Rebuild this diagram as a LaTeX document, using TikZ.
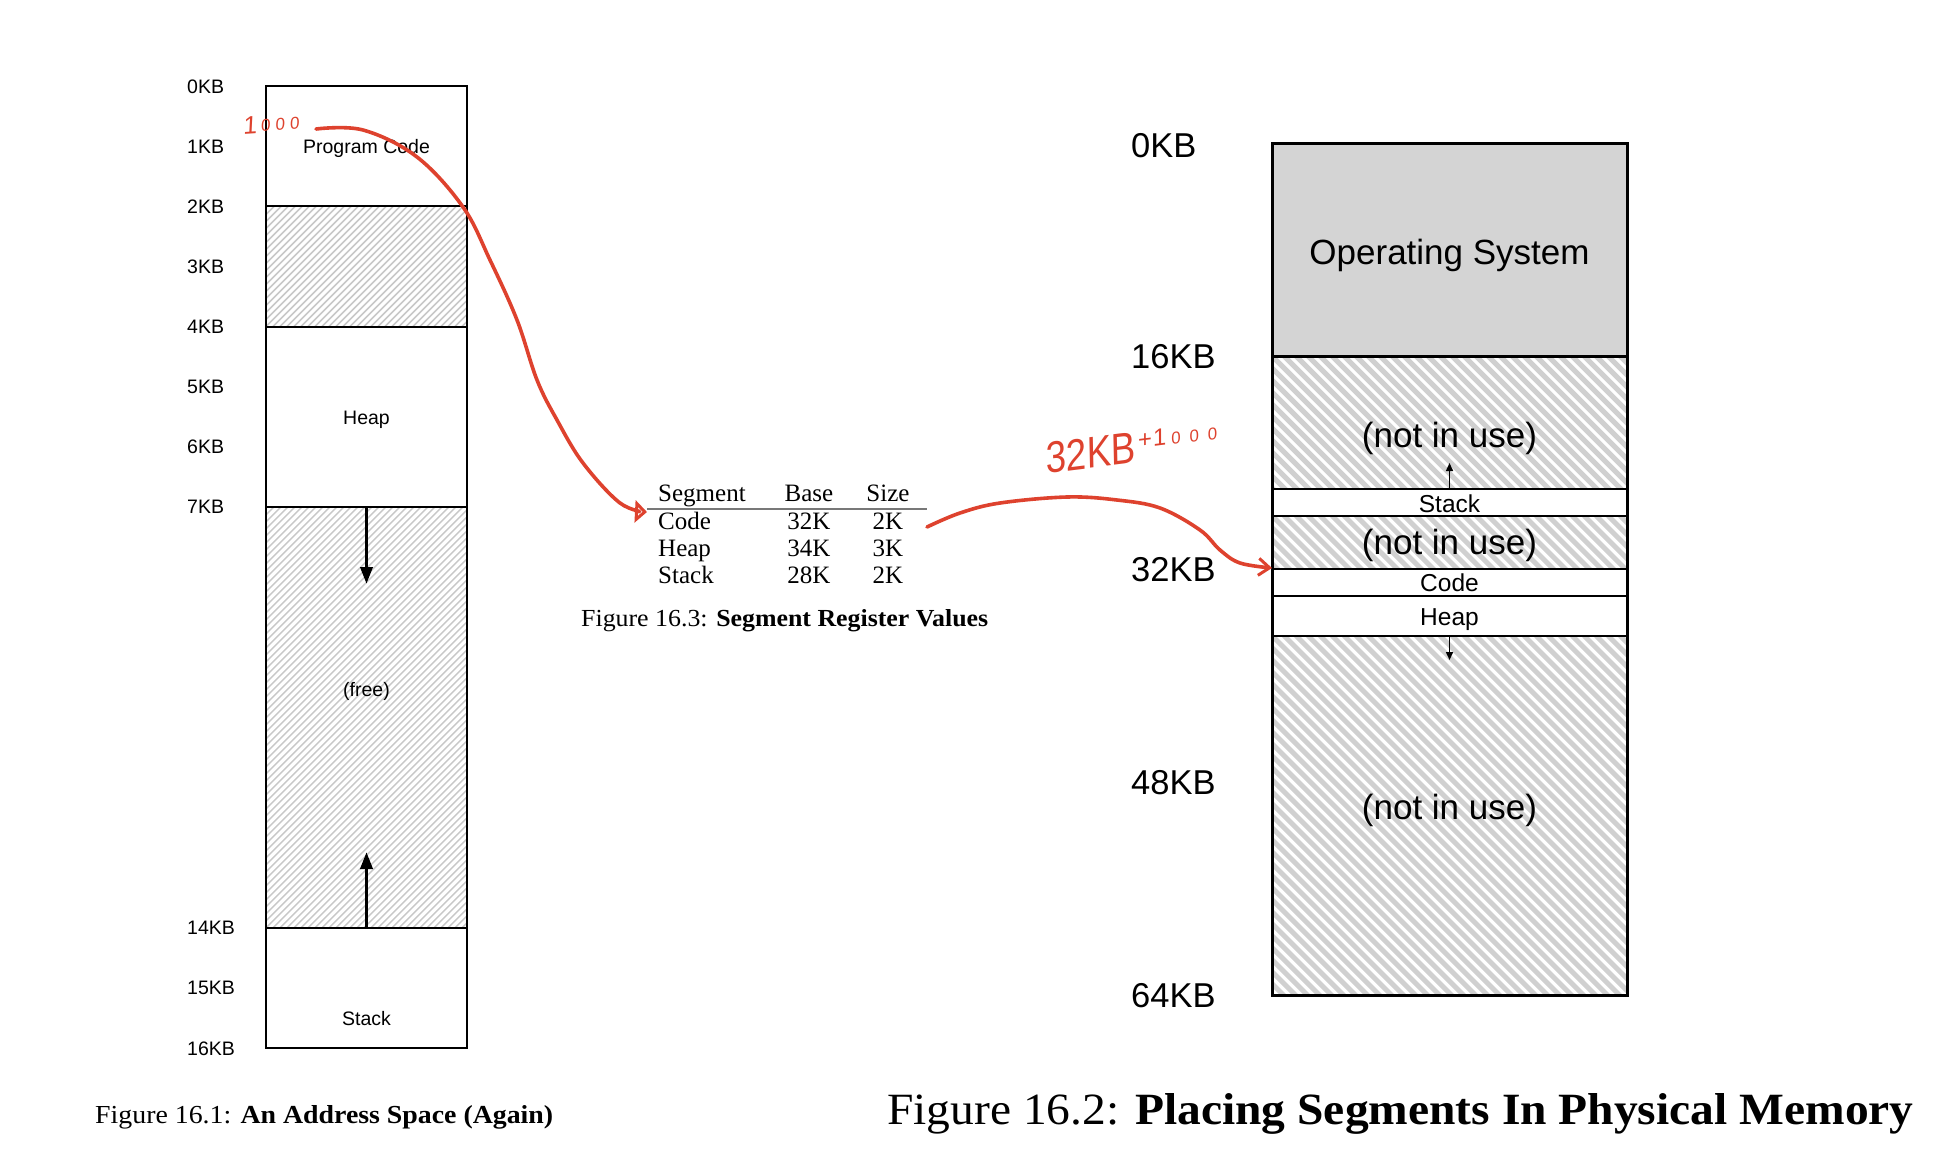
\documentclass[tikz,border=0pt]{standalone}
\usepackage{fontspec}
\setmainfont{Liberation Sans}
\newfontfamily\handfont[FakeSlant=0.12]{Liberation Sans}
\newfontfamily\palfont{Liberation Serif}
\usetikzlibrary{arrows.meta}
\definecolor{annot}{RGB}{222,66,46}
\definecolor{hatchL}{RGB}{200,200,200}
\definecolor{hatchR}{RGB}{208,208,208}
\definecolor{osgray}{RGB}{212,212,212}
\definecolor{rulegray}{RGB}{120,120,120}
\begin{document}
\begin{tikzpicture}[x=1pt,y=-1pt,
  lblL/.style={font=\fontsize{19.5}{22}\selectfont, inner sep=0, anchor=base west},
  lblR/.style={font=\fontsize{34.5}{40}\selectfont, inner sep=0, anchor=base west},
  txtL/.style={font=\fontsize{19.5}{22}\selectfont, inner sep=0, anchor=base},
  bigtxt/.style={font=\fontsize{35}{40}\selectfont, inner sep=0, anchor=base},
  segtxt/.style={font=\fontsize{24.5}{28}\selectfont, inner sep=0, anchor=base},
  tab/.style={font=\palfont\fontsize{25}{28}\selectfont, inner sep=0, anchor=base},
  capnode/.style={inner sep=0, anchor=base west},
  hand/.style={draw=annot, line width=3.6, line cap=round, line join=round},
  hL/.style={draw=hatchL, line width=1.5},
  hR/.style={draw=hatchR, line width=5},
  growL/.style={line width=3.5, -{Triangle[length=17pt,width=12pt]}},
  growR/.style={line width=1.5, -{Triangle[length=8pt,width=7pt]}}
]
\fill[white] (0,0) rectangle (1957,1160);
\useasboundingbox (0,0) rectangle (1957,1160);

% ---------------- Left: address space ----------------
\begin{scope}
  \clip (266,206.3) rectangle (467,326.5);
  \foreach \i in {-126,-119,...,210} \draw[hL] (266+\i,326.5) -- ++(125,-125);
\end{scope}
\begin{scope}
  \clip (266,506.9) rectangle (467,927.8);
  \foreach \i in {-427,-420,...,210} \draw[hL] (266+\i,927.8) -- ++(425,-425);
\end{scope}
\draw[line width=2] (266,86) rectangle (467,1048);
\foreach \yy in {206.3,326.5,506.9,927.8} \draw[line width=2] (266,\yy) -- (467,\yy);

\node[lblL] (l0) at (187,93) {0KB};
\node[lblL] (l1) at (187,153.1) {1KB};
\node[lblL] (l2) at (187,213.3) {2KB};
\node[lblL] (l3) at (187,273.4) {3KB};
\node[lblL] (l4) at (187,333.5) {4KB};
\node[lblL] (l5) at (187,393.6) {5KB};
\node[lblL] (l6) at (187,453.8) {6KB};
\node[lblL] (l7) at (187,513.9) {7KB};
\node[lblL] (l14) at (187,934.8) {14KB};
\node[lblL] (l15) at (187,994.9) {15KB};
\node[lblL] (l16) at (187,1055) {16KB};

\node[txtL] (pcode) at (366.5,153) {Program Code};
\node[txtL] (lheap) at (366.5,424) {Heap};
\node[txtL] (lfree) at (366.5,696) {(free)};
\node[txtL] (lstack) at (366.5,1025) {Stack};

\coordinate (hgs) at (366.5,506.9);
\coordinate (hge) at (366.5,584);
\coordinate (sgs) at (366.5,927.8);
\coordinate (sge) at (366.5,852);
\draw[growL] (hgs) -- (hge);
\draw[growL] (sgs) -- (sge);

\node[capnode] (cap1) at (95,1123) {\resizebox{458pt}{18pt}{\palfont Figure 16.1: \textbf{An Address Space (Again)}}};

% ---------------- Middle: table ----------------
\node[tab, anchor=base west] (hSeg) at (658,501) {Segment};
\node[tab] (hBase) at (809,501) {Base};
\node[tab] (hSize) at (888,501) {Size};
\draw[rulegray, line width=1.4] (647,509) -- (927,509);
\node[tab, anchor=base west] (rCode) at (658,529) {Code};
\node[tab] (bCode) at (809,529) {32K};
\node[tab] (sCode) at (888,529) {2K};
\node[tab, anchor=base west] (rHeap) at (658,556) {Heap};
\node[tab] (bHeap) at (809,556) {34K};
\node[tab] (sHeap) at (888,556) {3K};
\node[tab, anchor=base west] (rStack) at (658,583) {Stack};
\node[tab] (bStack) at (809,583) {28K};
\node[tab] (sStack) at (888,583) {2K};
\node[capnode] (cap3) at (581,626) {\resizebox{407pt}{17pt}{\palfont Figure 16.3: \textbf{Segment Register Values}}};

% ---------------- Right: physical memory ----------------
\fill[osgray] (1272,143) rectangle (1627,356);
\begin{scope}
  \clip (1272,356) rectangle (1627,489);
  \foreach \i in {-144,-132,...,360} \draw[hR] (1272+\i,356) -- ++(140,140);
\end{scope}
\begin{scope}
  \clip (1272,515.7) rectangle (1627,569);
  \foreach \i in {-60,-48,...,360} \draw[hR] (1272+\i,515.7) -- ++(60,60);
\end{scope}
\begin{scope}
  \clip (1272,635.6) rectangle (1627,995);
  \foreach \i in {-372,-360,...,360} \draw[hR] (1272+\i,635.6) -- ++(365,365);
\end{scope}
\foreach \yy in {489,515.7,569,595.6,635.6} \draw[line width=2.2] (1272,\yy) -- (1627,\yy);
\draw[line width=3] (1272,356) -- (1627,356);
\draw[line width=3] (1272,143) rectangle (1627,995);

\node[lblR] (r0) at (1131,157) {0KB};
\node[lblR] (r16) at (1131,368) {16KB};
\node[lblR] (r32) at (1131,581) {32KB};
\node[lblR] (r48) at (1131,794) {48KB};
\node[lblR] (r64) at (1131,1007) {64KB};

\node[bigtxt] (os) at (1449.5,264) {Operating System};
\node[bigtxt] (nu1) at (1449.5,447) {(not in use)};
\node[bigtxt] (nu2) at (1449.5,554) {(not in use)};
\node[bigtxt] (nu3) at (1449.5,819) {(not in use)};
\node[segtxt] (pstack) at (1449.5,512) {Stack};
\node[segtxt] (pcodeR) at (1449.5,591) {Code};
\node[segtxt] (pheap) at (1449.5,625) {Heap};

\coordinate (sgr1) at (1449.5,489);
\coordinate (sgr2) at (1449.5,463);
\coordinate (hgr1) at (1449.5,635.6);
\coordinate (hgr2) at (1449.5,660);
\draw[growR] (sgr1) -- (sgr2);
\draw[growR] (hgr1) -- (hgr2);

\node[capnode] (cap2) at (887,1124) {\resizebox{1026pt}{31pt}{\palfont Figure 16.2: \textbf{Placing Segments In Physical Memory}}};

% ---------------- Red annotations ----------------
\node[inner sep=0, anchor=base west, text=annot, rotate=4] (n1000) at (243,135)
  {\handfont{\fontsize{25}{25}\selectfont 1}\kern4pt\raisebox{2pt}{\fontsize{17}{17}\selectfont 0\kern5pt0\kern5pt0}};
\node[inner sep=0, anchor=base west, text=annot, rotate=7] (n32) at (1046,474)
  {\handfont\scalebox{0.84}[1]{\fontsize{44}{44}\selectfont 32KB}\kern4pt\raisebox{14pt}{{\fontsize{24}{24}\selectfont +\kern1pt1}\kern5pt{\fontsize{17}{17}\selectfont 0\kern9pt0\kern9pt0}}};

\coordinate (annA) at (316,129);
\coordinate (codeIn) at (647,512);
\coordinate (tabOut) at (927,527);
\coordinate (physCode) at (1272,568);
\draw[hand, -{Triangle[open,length=12pt,width=22pt,line width=3pt]}] plot[smooth, tension=0.6] coordinates
  {(annA) (363,130) (417,157) (463,207) (490,260) (517,320) (537,380) (557,420) (583,463) (620,503) (codeIn)};
\draw[hand, -{Straight Barb[length=11pt,width=17pt,line width=3pt]}] plot[smooth, tension=0.6] coordinates
  {(tabOut) (960,513) (1000,503) (1067,497) (1117,500) (1160,508) (1200,530) (1220,550) (1240,563) (physCode)};
\end{tikzpicture}
\end{document}
